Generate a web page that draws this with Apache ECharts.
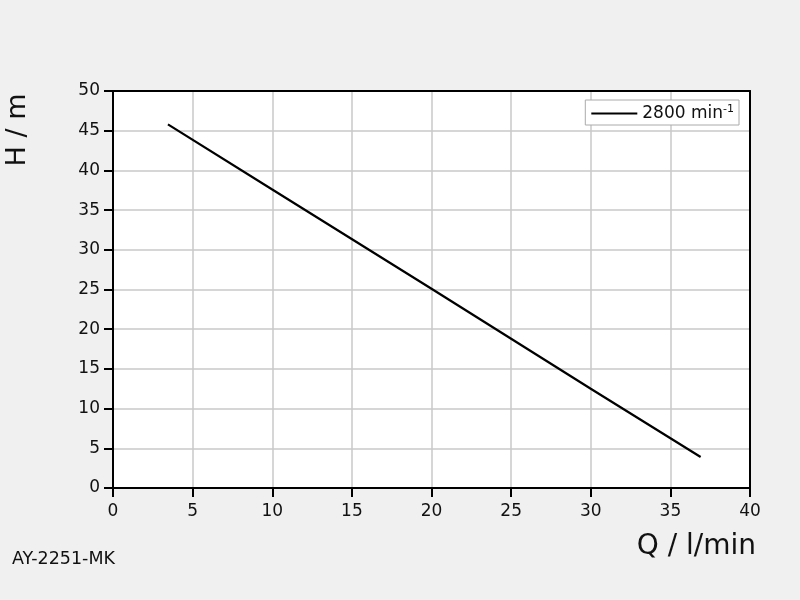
<!DOCTYPE html>
<html>
<head>
<meta charset="utf-8">
<script src="https://cdn.jsdelivr.net/npm/echarts@6/dist/echarts.min.js"></script>
<style>html,body{margin:0;padding:0;background:#f0f0f0;}#c{width:800px;height:600px;}</style>
</head>
<body>
<div id="c"></div>
<script>
const seriesName = '2800 min-1';
const flow = [3.45, 10, 20, 30, 36.9];
const head = [45.8, 37.6, 25.1, 12.5, 3.9];
const xTicks = [0, 5, 10, 15, 20, 25, 30, 35, 40];
const yTicks = [0, 5, 10, 15, 20, 25, 30, 35, 40, 45, 50];

const chart = echarts.init(document.getElementById('c'), null, {renderer: 'canvas'});
const font = 'DejaVu Sans';
const frameAxis = {
  type: 'value',
  axisLine: {show: true, onZero: false, lineStyle: {color: '#000', width: 2}},
  axisTick: {show: false}, axisLabel: {show: false}, splitLine: {show: false}
};
chart.setOption({
  backgroundColor: '#f0f0f0',
  animation: false,
  textStyle: {fontFamily: font},
  grid: {left: 113, right: 50, top: 91, bottom: 112, show: true, backgroundColor: '#ffffff', borderWidth: 0},
  legend: {
    right: 61, top: 100,
    backgroundColor: '#ffffff', borderColor: '#aaaaaa', borderWidth: 1,
    padding: [4, 5, 3, 6],
    itemWidth: 46, itemHeight: 2, itemGap: 8,
    icon: 'rect',
    data: [seriesName],
    formatter: () => '{a|2800 min}{s|-1}',
    textStyle: {
      rich: {
        a: {fontFamily: font, fontSize: 17, color: '#111'},
        s: {fontFamily: font, fontSize: 11, color: '#111', verticalAlign: 'top', padding: [0, 0, 8, 0]}
      }
    }
  },
  xAxis: [{
    type: 'value', min: 0, max: 40, interval: 5,
    axisLine: {show: true, lineStyle: {color: '#000', width: 2}},
    axisTick: {show: true, length: 9, inside: false, lineStyle: {color: '#000', width: 2}},
    axisLabel: {fontFamily: font, fontSize: 17, color: '#111', margin: 15},
    splitLine: {show: true, lineStyle: {color: '#c8c8c8', width: 1.5}}
  }, Object.assign({position: 'top', min: 0, max: 40}, frameAxis)],
  yAxis: [{
    type: 'value', min: 0, max: 50, interval: 5,
    axisLine: {show: true, lineStyle: {color: '#000', width: 2}},
    axisTick: {show: true, length: 9, inside: false, lineStyle: {color: '#000', width: 2}},
    axisLabel: {fontFamily: font, fontSize: 17, color: '#111', margin: 13},
    splitLine: {show: true, lineStyle: {color: '#c8c8c8', width: 1.5}}
  }, Object.assign({position: 'right', min: 0, max: 50}, frameAxis)],
  graphic: [
    {type: 'text', right: 44, top: 533, style: {text: 'Q / l/min', font: '28px "DejaVu Sans"', fill: '#111'}},
    {type: 'text', x: 18, y: 130, rotation: Math.PI / 2, style: {text: 'H / m', font: '27px "DejaVu Sans"', fill: '#111', align: 'center', verticalAlign: 'middle'}},
    {type: 'text', left: 12, top: 550, style: {text: 'AY-2251-MK', font: '17.5px "DejaVu Sans"', fill: '#111'}}
  ],
  series: [{
    name: seriesName, type: 'line',
    xAxisIndex: 0, yAxisIndex: 0,
    data: flow.map((x, i) => [x, head[i]]),
    showSymbol: false, symbol: 'none',
    lineStyle: {color: '#000', width: 2.2},
    itemStyle: {color: '#000'}
  }]
});
</script>
</body>
</html>
